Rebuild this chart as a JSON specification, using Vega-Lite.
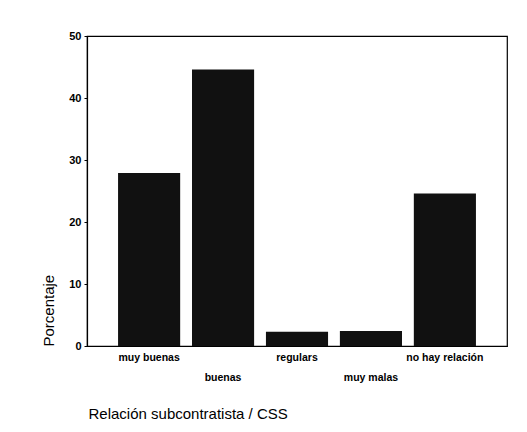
{
  "$schema": "https://vega.github.io/schema/vega-lite/v6.json",
  "width": 420,
  "height": 310,
  "autosize": {"type": "none"},
  "padding": {"left": 87, "top": 36, "right": 20, "bottom": 86},
  "background": "white",
  "config": {
    "view": {"stroke": "black", "strokeWidth": 1.2},
    "font": "Liberation Sans"
  },
  "data": {
    "values": [
      {"relacion": "muy buenas", "porcentaje": 27.9},
      {"relacion": "buenas", "porcentaje": 44.6},
      {"relacion": "regulars", "porcentaje": 2.3},
      {"relacion": "muy malas", "porcentaje": 2.4},
      {"relacion": "no hay relación", "porcentaje": 24.6}
    ]
  },
  "mark": {"type": "bar", "color": "#111111"},
  "encoding": {
    "x": {
      "field": "relacion",
      "type": "nominal",
      "sort": null,
      "scale": {"paddingInner": 0.16, "paddingOuter": 0.42},
      "axis": {
        "title": "Relación subcontratista / CSS",
        "titleFont": "Liberation Sans",
        "titleFontSize": 15,
        "titleFontWeight": "normal",
        "titleColor": "black",
        "titleAnchor": "start",
        "titleAlign": "left",
        "titleBaseline": "alphabetic",
        "titleX": 1,
        "titleY": 72,
        "labelAngle": 0,
        "labelFont": "Liberation Sans",
        "labelFontSize": 10.5,
        "labelFontWeight": "bold",
        "labelColor": "black",
        "labelPadding": 6,
        "labelLineHeight": 20,
        "labelExpr": "(datum.value == 'buenas' || datum.value == 'muy malas') ? ['', datum.value] : datum.value",
        "ticks": false,
        "domainColor": "black",
        "domainWidth": 1.2
      }
    },
    "y": {
      "field": "porcentaje",
      "type": "quantitative",
      "scale": {"domain": [0, 50], "nice": false},
      "axis": {
        "title": "Porcentaje",
        "titleFont": "Liberation Sans",
        "titleFontSize": 15,
        "titleFontWeight": "normal",
        "titleColor": "black",
        "titleAnchor": "start",
        "titlePadding": 12,
        "values": [0, 10, 20, 30, 40, 50],
        "grid": false,
        "labelFont": "Liberation Sans",
        "labelFontSize": 11,
        "labelFontWeight": "bold",
        "labelColor": "black",
        "labelPadding": 3,
        "tickSize": 3,
        "tickColor": "black",
        "domainColor": "black",
        "domainWidth": 1.2
      }
    }
  }
}
